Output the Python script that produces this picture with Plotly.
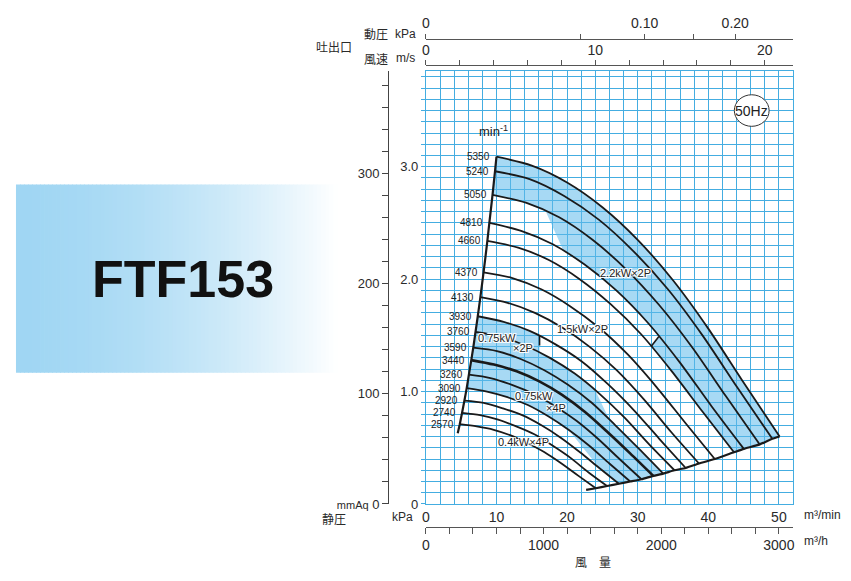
import plotly.graph_objects as go

# ------------------------------------------------------------------
# DATA  (flow Q in m3/min, static pressure P in kPa)
# ------------------------------------------------------------------
rpm_values = [5350, 5240, 5050, 4810, 4660, 4370, 4130, 3930,
              3760, 3590, 3440, 3260, 3090, 2920, 2740, 2570]

Q_5350 = [10.0, 15.0, 20.0, 25.0, 30.0, 35.0, 40.0, 45.0, 50.1]
P_5350 = [3.09, 3.01, 2.86, 2.64, 2.35, 1.99, 1.56, 1.08, 0.60]
Q_5240 = [9.79, 14.69, 19.59, 24.49, 29.38, 34.28, 39.18, 44.07, 49.07]
P_5240 = [2.96, 2.89, 2.74, 2.53, 2.25, 1.91, 1.50, 1.04, 0.58]
Q_5050 = [9.44, 14.16, 18.88, 23.60, 28.32, 33.04, 37.76, 42.48, 47.29]
P_5050 = [2.75, 2.68, 2.55, 2.35, 2.09, 1.77, 1.39, 0.96, 0.53]
Q_4810 = [8.99, 13.49, 17.98, 22.48, 26.97, 31.47, 35.96, 40.46, 45.04]
P_4810 = [2.50, 2.43, 2.31, 2.13, 1.90, 1.61, 1.26, 0.87, 0.49]
Q_4660 = [8.71, 13.07, 17.42, 21.78, 26.13, 30.49, 34.84, 39.20, 43.64]
P_4660 = [2.34, 2.28, 2.17, 2.00, 1.78, 1.51, 1.18, 0.82, 0.46]
Q_4370 = [8.17, 12.25, 16.34, 20.42, 24.50, 28.59, 32.67, 36.76, 40.92]
P_4370 = [2.06, 2.01, 1.91, 1.76, 1.57, 1.33, 1.04, 0.72, 0.40]
Q_4130 = [7.72, 11.58, 15.44, 19.30, 23.16, 27.02, 30.88, 34.74, 38.68]
P_4130 = [1.84, 1.79, 1.70, 1.57, 1.40, 1.19, 0.93, 0.64, 0.36]
Q_3930 = [7.35, 11.02, 14.69, 18.36, 22.04, 25.71, 29.38, 33.06, 36.80]
P_3930 = [1.67, 1.62, 1.54, 1.42, 1.27, 1.07, 0.84, 0.58, 0.32]
Q_3760 = [7.03, 10.54, 14.06, 17.57, 21.08, 24.60, 28.11, 31.63, 35.21]
P_3760 = [1.53, 1.49, 1.41, 1.30, 1.16, 0.98, 0.77, 0.53, 0.30]
Q_3590 = [6.71, 10.07, 13.42, 16.78, 20.13, 23.49, 26.84, 30.20, 33.62]
P_3590 = [1.39, 1.36, 1.29, 1.19, 1.06, 0.90, 0.70, 0.49, 0.27]
Q_3440 = [6.43, 9.64, 12.86, 16.07, 19.29, 22.50, 25.72, 28.93, 32.21]
P_3440 = [1.28, 1.24, 1.18, 1.09, 0.97, 0.82, 0.64, 0.45, 0.25]
Q_3260 = [6.09, 9.14, 12.19, 15.23, 18.28, 21.33, 24.37, 27.42, 30.53]
P_3260 = [1.15, 1.12, 1.06, 0.98, 0.87, 0.74, 0.58, 0.40, 0.22]
Q_3090 = [5.78, 8.66, 11.55, 14.44, 17.33, 20.21, 23.10, 25.99, 28.94]
P_3090 = [1.03, 1.00, 0.95, 0.88, 0.78, 0.66, 0.52, 0.36, 0.20]
Q_2920 = [5.46, 8.19, 10.92, 13.64, 16.37, 19.10, 21.83, 24.56, 27.34]
P_2920 = [0.92, 0.90, 0.85, 0.79, 0.70, 0.59, 0.46, 0.32, 0.18]
Q_2740 = [5.12, 7.68, 10.24, 12.80, 15.36, 17.93, 20.49, 23.05, 25.66]
P_2740 = [0.81, 0.79, 0.75, 0.69, 0.62, 0.52, 0.41, 0.28, 0.16]
Q_2570 = [4.80, 7.21, 9.61, 12.01, 14.41, 16.81, 19.21, 21.62, 24.07]
P_2570 = [0.71, 0.69, 0.66, 0.61, 0.54, 0.46, 0.36, 0.25, 0.14]

# extensions of the left (surge) line and bottom (end) line
left_line_ext_q, left_line_ext_p = [4.51], [0.63]
end_line_ext_q, end_line_ext_p = [22.7], [0.125]

# motor-limit boundaries
markA_q, markA_p = [31.9, 33.0], [1.40, 1.49]      # 1.5kW limit tick
stepA_q, stepA_p = [19.5, 17.0], [2.25, 2.60]
markB_q, markB_p = [16.1, 16.1], [1.495, 1.41]     # 0.75kW x2P limit tick
stepB_q, stepB_p = [24.0, 26.0], [1.01, 0.75]
stepC_q, stepC_p = [24.56], [0.32]

# axis tick labels
flow_min_ticks = [0, 10, 20, 30, 40, 50]
flow_h_ticks = [0, 1000, 2000, 3000]
kpa_ticks = [0, 1, 2, 3]
kpa_labels = ["0", "1.0", "2.0", "3.0"]
mmaq_ticks = [0, 100, 200, 300]
mmaq_labels = ["<span style='font-size:11px'>mmAq</span> 0", "100", "200", "300"]
vel_ticks = [0, 10, 20]
dyn_major = [0, 0.10, 0.20]
dyn_major_labels = ["0", "0.10", "0.20"]
dyn_minor = [0.05, 0.15]

curves = {5350: (Q_5350, P_5350), 5240: (Q_5240, P_5240), 5050: (Q_5050, P_5050),
          4810: (Q_4810, P_4810), 4660: (Q_4660, P_4660), 4370: (Q_4370, P_4370),
          4130: (Q_4130, P_4130), 3930: (Q_3930, P_3930), 3760: (Q_3760, P_3760),
          3590: (Q_3590, P_3590), 3440: (Q_3440, P_3440), 3260: (Q_3260, P_3260),
          3090: (Q_3090, P_3090), 2920: (Q_2920, P_2920), 2740: (Q_2740, P_2740),
          2570: (Q_2570, P_2570)}

# ------------------------------------------------------------------
# page geometry (the page body adds an 8px offset)
SW, SH = 851, 581
OFF = 8
FW, FH = SW - OFF, SH - OFF
PR = 793                      # screen x of plot right edge
PAPER_W = PR - OFF
def px(sx): return (sx - OFF) / PAPER_W
def py(sy): return (SH - sy) / FH

X0, Y0, YT = 424, 511, 72     # screen px of plot left / bottom / top
XMAX = 52.0
YMAX = (Y0 - YT) / 114.0
KPA_PER_MMAQ = 0.00980665
M3MIN_PER_MS = 2.40

FONT = "Liberation Sans, Arial, sans-serif"
JP = "Noto Sans CJK JP, Noto Sans CJK SC, sans-serif"
GRID = "#44ade1"
TXT = "#2a2a2a"
SHADE = "rgba(95,185,235,0.55)"
CURVE = "#1a1a1a"

fig = go.Figure()

# ---------------- shaded motor regions ----------------
def pts(q, p, idx):
    return [(q[i], p[i]) for i in idx]

polyA = (list(zip(Q_5350, P_5350))
         + [(Q_5240[-1], P_5240[-1]), (Q_5050[-1], P_5050[-1]),
            (Q_4810[-1], P_4810[-1]), (Q_4660[-1], P_4660[-1])]
         + pts(Q_4660, P_4660, [7, 6])
         + list(zip(markA_q, markA_p))
         + pts(Q_4810, P_4810, [5, 4, 3])
         + list(zip(stepA_q, stepA_p))
         + pts(Q_5050, P_5050, [1, 0])
         + [(Q_5240[0], P_5240[0])])

polyB = ([(curves[r][0][0], curves[r][1][0]) for r in [3090, 3260, 3440, 3590, 3760, 3930]]
         + pts(Q_3930, P_3930, [1, 2])
         + list(zip(markB_q, markB_p))
         + [(16.1, 1.346)]
         + pts(Q_3760, P_3760, [3, 4])
         + list(zip(stepB_q, stepB_p))
         + pts(Q_3590, P_3590, [6, 7, 8])
         + [(curves[r][0][-1], curves[r][1][-1]) for r in [3440, 3260, 3090, 2920]]
         + list(zip(stepC_q, stepC_p))
         + pts(Q_3090, P_3090, [5, 4, 3, 2, 1]))

for poly in (polyA, polyB):
    fig.add_trace(go.Scatter(x=[a for a, b in poly], y=[b for a, b in poly],
                             fill="toself", fillcolor=SHADE, mode="lines",
                             line=dict(width=0), hoverinfo="skip", showlegend=False))

# ---------------- rpm curves ----------------
for r, (q, p) in curves.items():
    fig.add_trace(go.Scatter(x=q, y=p, mode="lines",
                             line=dict(color=CURVE, width=2.6 if r == 3440 else 1.8,
                                       shape="spline", smoothing=0.8),
                             hoverinfo="skip", showlegend=False))

# left line through curve starts
lq = [curves[r][0][0] for r in rpm_values] + left_line_ext_q
lp = [curves[r][1][0] for r in rpm_values] + left_line_ext_p
fig.add_trace(go.Scatter(x=lq, y=lp, mode="lines",
                         line=dict(color=CURVE, width=2.2, shape="spline", smoothing=0.5),
                         hoverinfo="skip", showlegend=False))
# bottom line through curve ends
bq = end_line_ext_q + [curves[r][0][-1] for r in rpm_values[::-1]]
bp = end_line_ext_p + [curves[r][1][-1] for r in rpm_values[::-1]]
fig.add_trace(go.Scatter(x=bq, y=bp, mode="lines",
                         line=dict(color=CURVE, width=2.2, shape="spline", smoothing=0.5),
                         hoverinfo="skip", showlegend=False))
# limit ticks
for mq, mp in ((markA_q, markA_p), (markB_q, markB_p)):
    fig.add_trace(go.Scatter(x=mq, y=mp, mode="lines", line=dict(color=CURVE, width=1.6),
                             hoverinfo="skip", showlegend=False))

# dummy traces so overlay axes exist
for xa, ya in (("x2", "y"), ("x3", "y"), ("x4", "y"), ("x", "y2")):
    fig.add_trace(go.Scatter(x=[None], y=[None], xaxis=xa, yaxis=ya, mode="lines",
                             hoverinfo="skip", showlegend=False))

# ---------------- annotations ----------------
ann = []
for r, (q, p) in curves.items():
    ann.append(dict(x=q[0], y=p[0], xref="x", yref="y", text=str(r), showarrow=False,
                    xanchor="right", yanchor="middle", xshift=-4,
                    font=dict(family=FONT, size=10, color="#222")))

halo = "1px 1px 0 #fff, -1px -1px 0 #fff, 1px -1px 0 #fff, -1px 1px 0 #fff, 0 1px 0 #fff, 0 -1px 0 #fff"
def lab(text, x, y, size=11, family=FONT, color="#222", shadow=None, weight=None, **kw):
    f = dict(family=family, size=size, color=color)
    if shadow:
        f["shadow"] = shadow
    if weight:
        f["weight"] = weight
    d = dict(x=px(x), y=py(y), xref="paper", yref="paper", text=text, showarrow=False,
             xanchor="center", yanchor="middle", font=f)
    d.update(kw)
    ann.append(d)

lab("2.2kW×2P", 625, 277, shadow=halo)
lab("1.5kW×2P", 581, 334, shadow=halo)
lab("0.75kW", 495, 343, shadow=halo)
lab("×2P", 522, 353, shadow=halo)
lab("0.75kW", 533, 401, shadow=halo)
lab("×4P", 555, 414, shadow=halo)
lab("0.4kW×4P", 522, 448, shadow=halo)
lab("min<sup>-1</sup>", 492, 133, size=13, color="#222")
lab("50Hz", 751, 112, size=14, color="#222")

lab("FTF153", 180, 283, size=52, color="#111", weight="bold")

lab("吐出口", 332, 47, size=12, family=JP, color=TXT)
lab("動圧", 374, 34, size=12, family=JP, color=TXT)
lab("kPa", 404, 34, size=12, color=TXT)
lab("風速", 374, 59, size=12, family=JP, color=TXT)
lab("m/s", 404, 59, size=12, color=TXT)
lab("静圧", 332, 526, size=12, family=JP, color=TXT)
lab("kPa", 401, 524, size=12, color=TXT)
lab("m³/min", 823, 522, size=12, color=TXT)
lab("m³/h", 816, 549, size=12, color=TXT)
lab("風　量", 592, 569, size=12, family=JP, color=TXT)

# ---------------- shapes ----------------
shapes = []
# gradient title box
bx0, bx1, by0, by1 = 12, 335, 187, 378
c0 = (160, 214, 243)
n = 80
for i in range(n):
    xa = bx0 + (bx1 - bx0) * i / n
    xb = bx0 + (bx1 - bx0) * (i + 1) / n
    f = ((i + 0.5) / n) ** 1.7
    col = "rgb(%d,%d,%d)" % tuple(round(c + (255 - c) * f) for c in c0)
    shapes.append(dict(type="rect", xref="paper", yref="paper", x0=px(xa), x1=px(xb) + 0.001,
                       y0=py(by1), y1=py(by0), fillcolor=col, line=dict(width=0), layer="below"))
# 50Hz circle
shapes.append(dict(type="circle", xref="paper", yref="paper", x0=px(734), x1=px(769),
                   y0=py(128), y1=py(96), fillcolor="white", line=dict(color="#333", width=1)))

# ---------------- layout ----------------
tickfont_x = dict(family=FONT, size=14, color=TXT)
tickfont_y = dict(family=FONT, size=13, color=TXT)
dom_x = [px(X0), 1.0]
dom_y = [py(Y0), py(YT)]

fig.update_layout(
    width=FW, height=FH, autosize=False,
    margin=dict(l=0, r=FW - PAPER_W, t=0, b=0),
    paper_bgcolor="white", plot_bgcolor="white",
    showlegend=False,
    annotations=ann, shapes=shapes,
    xaxis=dict(domain=dom_x, range=[0, XMAX], tickvals=flow_min_ticks,
               ticktext=[str(v) for v in flow_min_ticks], ticks="", tickfont=tickfont_x,
               showgrid=True, gridcolor=GRID, gridwidth=1, zeroline=False,
               minor=dict(dtick=2, tick0=0, showgrid=True, gridcolor=GRID, gridwidth=1),
               showline=True, linecolor=GRID, linewidth=1, mirror=True, anchor="y"),
    yaxis=dict(domain=dom_y, range=[0, YMAX], tickvals=kpa_ticks, ticktext=kpa_labels,
               ticks="outside", ticklen=4, tickcolor=GRID, tickfont=tickfont_y,
               showgrid=True, gridcolor=GRID, gridwidth=1, zeroline=False,
               minor=dict(dtick=0.1, tick0=0, showgrid=True, gridcolor=GRID, gridwidth=1,
                          ticks="outside", ticklen=4, tickcolor=GRID),
               showline=True, linecolor=GRID, linewidth=1, mirror=True, anchor="x"),
    xaxis2=dict(overlaying="x", anchor="free", position=py(534), side="bottom",
                range=[0, XMAX * 60], tickvals=flow_h_ticks,
                ticktext=[str(v) for v in flow_h_ticks],
                ticks="outside", ticklen=6, tickcolor="#555", tickfont=tickfont_x,
                minor=dict(dtick=200, tick0=0, ticks="outside", ticklen=6, tickcolor="#555",
                           showgrid=False),
                showline=True, linecolor="#555", linewidth=1, showgrid=False, zeroline=False),
    xaxis3=dict(overlaying="x", anchor="free", position=py(66), side="top",
                range=[0, XMAX / M3MIN_PER_MS], tickvals=vel_ticks,
                ticktext=[str(v) for v in vel_ticks],
                ticks="outside", ticklen=5, tickcolor="#555", tickfont=tickfont_x,
                minor=dict(dtick=2, tick0=0, ticks="outside", ticklen=5, tickcolor="#555",
                           showgrid=False),
                showline=True, linecolor="#555", linewidth=1, showgrid=False, zeroline=False),
    xaxis4=dict(overlaying="x", anchor="free", position=py(39), side="top",
                range=[0, XMAX / M3MIN_PER_MS],
                tickvals=[(p / 0.0006) ** 0.5 for p in dyn_major], ticktext=dyn_major_labels,
                ticks="outside", ticklen=5, tickcolor="#555", tickfont=tickfont_x,
                minor=dict(tickvals=[(p / 0.0006) ** 0.5 for p in dyn_minor], ticks="outside",
                           ticklen=5, tickcolor="#555", showgrid=False),
                showline=True, linecolor="#555", linewidth=1, showgrid=False, zeroline=False),
    yaxis2=dict(overlaying="y", anchor="free", position=px(386), side="left",
                range=[0, YMAX / KPA_PER_MMAQ], tickvals=mmaq_ticks, ticktext=mmaq_labels,
                ticks="outside", ticklen=6, tickcolor="#444", tickfont=tickfont_y,
                minor=dict(dtick=20, tick0=0, ticks="outside", ticklen=6, tickcolor="#444",
                           showgrid=False),
                showline=True, linecolor="#444", linewidth=1, showgrid=False, zeroline=False),
)

fig.write_html("out.html")
